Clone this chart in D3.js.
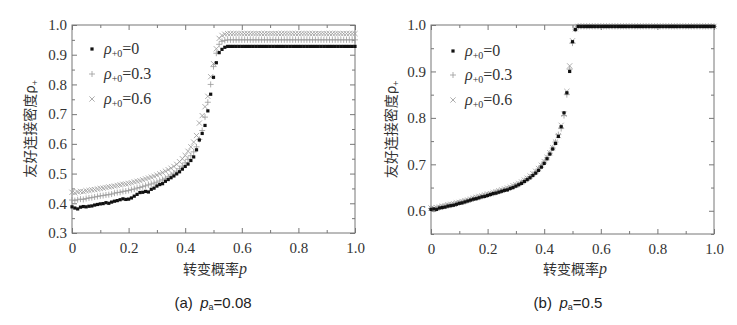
<!DOCTYPE html>
<html>
<head>
<meta charset="utf-8">
<script src="https://cdn.jsdelivr.net/npm/d3@7"></script>
<style>
body { margin: 0; background: #fff; }
.serif { font-family: "Liberation Serif", "Times New Roman", Times, "DejaVu Serif", "Noto Serif", serif; }
</style>
</head>
<body>
<div id="chart"></div>
<script>
// 转变概率 p (x grid)
var pGrid = [
  0.00, 0.01, 0.02, 0.03, 0.04, 0.05, 0.06, 0.07, 0.08, 0.09,
  0.10, 0.11, 0.12, 0.13, 0.14, 0.15, 0.16, 0.17, 0.18, 0.19,
  0.20, 0.21, 0.22, 0.23, 0.24, 0.25, 0.26, 0.27, 0.28, 0.29,
  0.30, 0.31, 0.32, 0.33, 0.34, 0.35, 0.36, 0.37, 0.38, 0.39,
  0.40, 0.41, 0.42, 0.43, 0.44, 0.45, 0.46, 0.47, 0.48, 0.49,
  0.50, 0.51, 0.52, 0.53, 0.54, 0.55, 0.56, 0.57, 0.58, 0.59,
  0.60, 0.61, 0.62, 0.63, 0.64, 0.65, 0.66, 0.67, 0.68, 0.69,
  0.70, 0.71, 0.72, 0.73, 0.74, 0.75, 0.76, 0.77, 0.78, 0.79,
  0.80, 0.81, 0.82, 0.83, 0.84, 0.85, 0.86, 0.87, 0.88, 0.89,
  0.90, 0.91, 0.92, 0.93, 0.94, 0.95, 0.96, 0.97, 0.98, 0.99,
  1.00
];

// (a) pa=0.08
var leftRho0 = [
  .388, .384, .381, .387, .389, .388, .390, .391, .394, .396,
  .398, .399, .402, .400, .404, .407, .409, .412, .415, .413,
  .414, .418, .424, .430, .436, .437, .440, .438, .447, .451,
  .458, .463, .466, .474, .480, .486, .492, .499, .506, .515,
  .524, .532, .544, .556, .580, .613, .635, .662, .711, .767,
  .824, .873, .907, .918, .925, .928, .928, .928, .928, .928,
  .928, .928, .928, .928, .928, .928, .928, .928, .928, .928,
  .928, .928, .928, .928, .928, .928, .928, .928, .928, .928,
  .928, .928, .928, .928, .928, .928, .928, .928, .928, .928,
  .928, .928, .928, .928, .928, .928, .928, .928, .928, .928,
  .928
];
var leftRho03 = [
  .411, .409, .412, .414, .413, .416, .418, .419, .421, .423,
  .425, .426, .428, .429, .431, .434, .436, .437, .440, .441,
  .443, .446, .448, .451, .453, .456, .459, .462, .465, .468,
  .471, .475, .479, .484, .489, .495, .501, .508, .516, .525,
  .536, .548, .560, .573, .590, .615, .645, .690, .740, .800,
  .860, .905, .935, .945, .948, .950, .950, .950, .950, .950,
  .950, .950, .950, .950, .950, .950, .950, .950, .950, .950,
  .950, .950, .950, .950, .950, .950, .950, .950, .950, .950,
  .950, .950, .950, .950, .950, .950, .950, .950, .950, .950,
  .950, .950, .950, .950, .950, .950, .950, .950, .950, .950,
  .950
];
var leftRho06 = [
  .437, .435, .438, .440, .439, .442, .443, .445, .446, .448,
  .450, .451, .453, .455, .456, .458, .460, .462, .464, .465,
  .467, .469, .472, .474, .476, .479, .482, .485, .488, .491,
  .495, .499, .503, .508, .513, .518, .524, .531, .540, .550,
  .561, .575, .590, .606, .628, .670, .695, .725, .760, .826,
  .870, .920, .955, .965, .969, .971, .971, .971, .971, .971,
  .971, .971, .971, .971, .971, .971, .971, .971, .971, .971,
  .971, .971, .971, .971, .971, .971, .971, .971, .971, .971,
  .971, .971, .971, .971, .971, .971, .971, .971, .971, .971,
  .971, .971, .971, .971, .971, .971, .971, .971, .971, .971,
  .971
];

// (b) pa=0.5
var rightRho0 = [
  .603, .604, .603, .606, .607, .608, .610, .611, .612, .614,
  .616, .617, .619, .621, .623, .625, .626, .628, .630, .631,
  .633, .635, .637, .638, .640, .642, .644, .645, .648, .650,
  .653, .656, .659, .663, .667, .671, .676, .681, .687, .694,
  .702, .712, .722, .733, .745, .760, .781, .811, .854, .900,
  .964, .990, .997, .997, .997, .997, .997, .997, .997, .997,
  .997, .997, .997, .997, .997, .997, .997, .997, .997, .997,
  .997, .997, .997, .997, .997, .997, .997, .997, .997, .997,
  .997, .997, .997, .997, .997, .997, .997, .997, .997, .997,
  .997, .997, .997, .997, .997, .997, .997, .997, .997, .997,
  .997
];
var rightRho03 = [
  .605, .603, .605, .607, .608, .610, .611, .612, .614, .615,
  .617, .619, .620, .622, .624, .626, .628, .629, .631, .633,
  .634, .636, .638, .640, .642, .643, .645, .647, .649, .652,
  .655, .657, .661, .665, .669, .673, .678, .683, .690, .697,
  .705, .714, .724, .735, .748, .764, .777, .805, .850, .905,
  .961, .991, .997, .997, .997, .997, .997, .997, .997, .997,
  .997, .997, .997, .997, .997, .997, .997, .997, .997, .997,
  .997, .997, .997, .997, .997, .997, .997, .997, .997, .997,
  .997, .997, .997, .997, .997, .997, .997, .997, .997, .997,
  .997, .997, .997, .997, .997, .997, .997, .997, .997, .997,
  .997
];
var rightRho06 = [
  .606, .605, .607, .608, .610, .611, .613, .614, .615, .617,
  .618, .620, .622, .623, .625, .627, .629, .631, .632, .634,
  .636, .637, .639, .641, .643, .645, .647, .649, .651, .654,
  .656, .659, .662, .666, .670, .675, .680, .685, .691, .698,
  .706, .715, .725, .736, .748, .762, .784, .808, .857, .912,
  .966, .992, .997, .997, .997, .997, .997, .997, .997, .997,
  .997, .997, .997, .997, .997, .997, .997, .997, .997, .997,
  .997, .997, .997, .997, .997, .997, .997, .997, .997, .997,
  .997, .997, .997, .997, .997, .997, .997, .997, .997, .997,
  .997, .997, .997, .997, .997, .997, .997, .997, .997, .997,
  .997
];

// 刻度
var xTicks = [0, 0.2, 0.4, 0.6, 0.8, 1.0];
var xTickLabels = ["0", "0.2", "0.4", "0.6", "0.8", "1.0"];
var xMinorTicks = [0.1, 0.3, 0.5, 0.7, 0.9];
var leftYTicks = [0.3, 0.4, 0.5, 0.6, 0.7, 0.8, 0.9, 1.0];
var leftYMinor = [0.35, 0.45, 0.55, 0.65, 0.75, 0.85, 0.95];
var rightYTicks = [0.6, 0.7, 0.8, 0.9, 1.0];
var rightYMinor = [0.55, 0.65, 0.75, 0.85, 0.95];
var legendLabels = ["0", "0.3", "0.6"];

var cjk = "'Noto Sans CJK SC', sans-serif";
var sans = "'Liberation Sans', Arial, sans-serif";
var axisColor = "#777";

var svg = d3.select("#chart")
    .append("svg")
    .attr("width", 737)
    .attr("height", 325);

drawPanel({
    left: 72, right: 355, top: 25, bottom: 233,
    yDomain: [0.3, 1.0], yTicks: leftYTicks, yMinor: leftYMinor,
    series: [leftRho0, leftRho03, leftRho06],
    legendX: 92, legendY: [49, 74, 99],
    yLabelX: 30, xLabelX: 215, captionX: 213, caption: "(a)", pa: "0.08"
});

drawPanel({
    left: 431, right: 714, top: 25, bottom: 234,
    yDomain: [0.55, 1.0], yTicks: rightYTicks, yMinor: rightYMinor,
    series: [rightRho0, rightRho03, rightRho06],
    legendX: 453, legendY: [51, 75, 100],
    yLabelX: 391, xLabelX: 575, captionX: 568, caption: "(b)", pa: "0.5"
});

function styleAxis(g) {
    g.attr("font-family", null);
    g.select(".domain").remove();
    g.selectAll("line").attr("stroke", axisColor).attr("stroke-width", 1);
    g.selectAll("text")
        .attr("class", "serif")
        .attr("fill", "#333")
        .style("font-size", "15px");
}

function drawPanel(cfg) {
    var xScale = d3.scaleLinear().domain([0, 1]).range([cfg.left, cfg.right]);
    var yScale = d3.scaleLinear().domain(cfg.yDomain).range([cfg.bottom, cfg.top]);

    // 坐标轴 (刻度朝内)
    svg.append("g").attr("transform", "translate(0," + cfg.bottom + ")")
        .call(d3.axisBottom(xScale).tickValues(xTicks).tickSizeInner(-5).tickSizeOuter(0).tickPadding(9)
            .tickFormat(function(d, i) { return xTickLabels[i]; }))
        .call(styleAxis);
    svg.append("g").attr("transform", "translate(0," + cfg.bottom + ")")
        .call(d3.axisBottom(xScale).tickValues(xMinorTicks).tickSizeInner(-3).tickSizeOuter(0).tickFormat(""))
        .call(styleAxis);
    svg.append("g").attr("transform", "translate(0," + cfg.top + ")")
        .call(d3.axisTop(xScale).tickValues(xTicks).tickSizeInner(-5).tickSizeOuter(0).tickFormat(""))
        .call(styleAxis);
    svg.append("g").attr("transform", "translate(0," + cfg.top + ")")
        .call(d3.axisTop(xScale).tickValues(xMinorTicks).tickSizeInner(-3).tickSizeOuter(0).tickFormat(""))
        .call(styleAxis);

    svg.append("g").attr("transform", "translate(" + cfg.left + ",0)")
        .call(d3.axisLeft(yScale).tickValues(cfg.yTicks).tickSizeInner(-5).tickSizeOuter(0).tickPadding(5)
            .tickFormat(d3.format(".1f")))
        .call(styleAxis);
    svg.append("g").attr("transform", "translate(" + cfg.left + ",0)")
        .call(d3.axisLeft(yScale).tickValues(cfg.yMinor).tickSizeInner(-3).tickSizeOuter(0).tickFormat(""))
        .call(styleAxis);
    svg.append("g").attr("transform", "translate(" + cfg.right + ",0)")
        .call(d3.axisRight(yScale).tickValues(cfg.yTicks).tickSizeInner(-5).tickSizeOuter(0).tickFormat(""))
        .call(styleAxis);
    svg.append("g").attr("transform", "translate(" + cfg.right + ",0)")
        .call(d3.axisRight(yScale).tickValues(cfg.yMinor).tickSizeInner(-3).tickSizeOuter(0).tickFormat(""))
        .call(styleAxis);

    // 边框
    svg.append("rect")
        .attr("x", cfg.left).attr("y", cfg.top)
        .attr("width", cfg.right - cfg.left).attr("height", cfg.bottom - cfg.top)
        .attr("fill", "none").attr("stroke", axisColor).attr("stroke-width", 1);

    // 数据点: × 先画, 然后 +, 最后方块
    drawMarks(cfg.series[2], "cross", xScale, yScale);
    drawMarks(cfg.series[1], "plus", xScale, yScale);
    drawMarks(cfg.series[0], "square", xScale, yScale);

    // 图例
    var kinds = ["square", "plus", "cross"];
    kinds.forEach(function(k, i) {
        var ly = cfg.legendY[i];
        drawMarker(svg, k, cfg.legendX, ly);
        var t = svg.append("text")
            .attr("class", "serif")
            .attr("x", cfg.legendX + 12).attr("y", ly + 5)
            .attr("fill", "#333")
            .style("font-size", "16px");
        t.append("tspan").style("font-style", "italic").text("ρ");
        t.append("tspan").attr("dy", 3).style("font-size", "10px").text("+0");
        t.append("tspan").attr("dy", -3).text("=" + legendLabels[i]);
    });

    // y 轴标题
    var yl = svg.append("text")
        .attr("transform", "translate(" + cfg.yLabelX + "," + ((cfg.top + cfg.bottom) / 2) + ") rotate(-90)")
        .attr("text-anchor", "middle")
        .attr("dy", "0.35em")
        .attr("fill", "#333")
        .style("font-family", cjk).style("font-size", "14px");
    yl.append("tspan").text("友好连接密度ρ");
    yl.append("tspan").attr("dy", 3).style("font-size", "9px").text("+");

    // x 轴标题
    var xl = svg.append("text")
        .attr("x", cfg.xLabelX).attr("y", 274)
        .attr("text-anchor", "middle")
        .attr("fill", "#333")
        .style("font-family", cjk).style("font-size", "14px");
    xl.append("tspan").text("转变概率");
    xl.append("tspan").attr("class", "serif").style("font-style", "italic").style("font-size", "16px").text("p");

    // 子图标题
    var cap = svg.append("text")
        .attr("x", cfg.captionX).attr("y", 308)
        .attr("text-anchor", "middle")
        .attr("fill", "#222")
        .style("font-family", sans).style("font-size", "15px");
    cap.append("tspan").text(cfg.caption + "\u2002");
    cap.append("tspan").style("font-style", "italic").text("p");
    cap.append("tspan").attr("dy", 2).style("font-size", "9px").text("a");
    cap.append("tspan").attr("dy", -2).text("=" + cfg.pa);
}

function drawMarks(values, kind, xScale, yScale) {
    var g = svg.append("g");
    g.selectAll("g.pt")
        .data(values)
        .enter()
        .append("g")
        .attr("class", "pt")
        .each(function(d, i) {
            drawMarker(d3.select(this), kind, xScale(pGrid[i]), yScale(d));
        });
}

function drawMarker(sel, kind, cx, cy) {
    if (kind === "square") {
        sel.append("rect")
            .attr("x", cx - 1.6).attr("y", cy - 1.6)
            .attr("width", 3.2).attr("height", 3.2)
            .attr("fill", "#111");
    } else if (kind === "plus") {
        sel.append("path")
            .attr("d", "M" + (cx - 3) + "," + cy + "H" + (cx + 3) + "M" + cx + "," + (cy - 3) + "V" + (cy + 3))
            .attr("stroke", "#999").attr("stroke-width", 0.8).attr("fill", "none");
    } else {
        sel.append("path")
            .attr("d", "M" + (cx - 2.6) + "," + (cy - 2.6) + "L" + (cx + 2.6) + "," + (cy + 2.6) +
                "M" + (cx - 2.6) + "," + (cy + 2.6) + "L" + (cx + 2.6) + "," + (cy - 2.6))
            .attr("stroke", "#999").attr("stroke-width", 0.8).attr("fill", "none");
    }
}
</script>
</body>
</html>
